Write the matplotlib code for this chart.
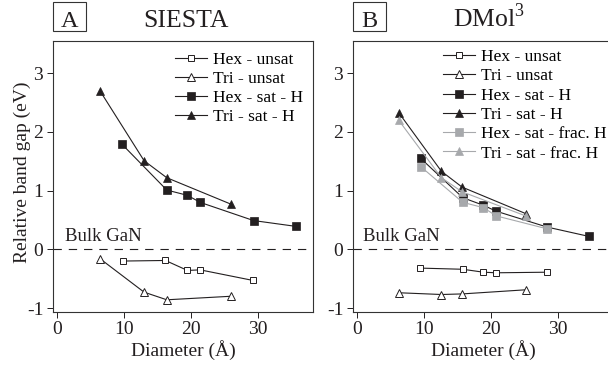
import numpy as np
import matplotlib
matplotlib.use("Agg")
import matplotlib.pyplot as plt
from matplotlib.patches import Rectangle

plt.rcParams['font.family'] = ['Liberation Serif', 'DejaVu Serif']
plt.rcParams['mathtext.fontset'] = 'custom'
plt.rcParams['mathtext.rm'] = 'Liberation Serif'
plt.rcParams['lines.scale_dashes'] = False
plt.rcParams['axes.unicode_minus'] = False

DARK = '#231f20'
GRAY = '#a7a9ac'

# --- panel A (SIESTA) ---
a_hex_unsat_x = [9.8, 16.2, 19.5, 21.4, 29.3]
a_hex_unsat_y = [-0.20, -0.19, -0.36, -0.35, -0.53]
a_tri_unsat_x = [6.4, 13.0, 16.4, 26.0]
a_tri_unsat_y = [-0.16, -0.73, -0.86, -0.80]
a_hex_sat_x = [9.7, 16.4, 19.5, 21.4, 29.4, 35.8]
a_hex_sat_y = [1.79, 1.01, 0.92, 0.80, 0.49, 0.39]
a_tri_sat_x = [6.4, 13.0, 16.4, 26.0]
a_tri_sat_y = [2.70, 1.51, 1.22, 0.77]

# --- panel B (DMol3) ---
b_hex_unsat_x = [9.4, 15.8, 18.9, 20.8, 28.4]
b_hex_unsat_y = [-0.32, -0.34, -0.39, -0.40, -0.39]
b_tri_unsat_x = [6.2, 12.6, 15.7, 25.2]
b_tri_unsat_y = [-0.74, -0.77, -0.76, -0.69]
b_hex_sat_x = [9.5, 15.8, 18.9, 20.8, 28.4, 34.7]
b_hex_sat_y = [1.55, 0.88, 0.75, 0.65, 0.38, 0.22]
b_tri_sat_x = [6.2, 12.6, 15.7, 25.2]
b_tri_sat_y = [2.33, 1.33, 1.06, 0.61]
b_hex_frac_x = [9.5, 15.8, 18.9, 20.8, 28.4]
b_hex_frac_y = [1.41, 0.80, 0.71, 0.57, 0.35]
b_tri_frac_x = [6.2, 12.6, 15.7, 25.2]
b_tri_frac_y = [2.20, 1.22, 0.98, 0.57]

xticks = [0, 10, 20, 30]
yticks = [-1, 0, 1, 2, 3]


def open_style(marker, ms):
    return dict(color=DARK, lw=0.8, marker=marker, ms=ms, mfc='white', mec=DARK, mew=0.7)


def filled_style(marker, ms, color=DARK):
    return dict(color=color, lw=0.8, marker=marker, ms=ms, mfc=color, mec=color, mew=0.5)


def setup_axes(ax, bulk_x):
    ax.set_xlim(-0.64, 38.3)
    ax.set_ylim(-1.063, 3.555)
    ax.set_xticks(xticks)
    ax.set_yticks(yticks)
    ax.axhline(0, color=DARK, lw=0.8, dashes=(6, 5))
    ax.text(bulk_x, 0.15, 'Bulk GaN', fontsize=13.5, color=DARK, va='baseline')
    ax.tick_params(direction='out', length=4, width=0.7, labelsize=14, colors=DARK,
                   top=False, right=False, pad=3)
    for s in ax.spines.values():
        s.set_linewidth(0.8)
        s.set_color('#333333')
    ax.set_xlabel('Diameter (Å)', fontsize=14, color=DARK, labelpad=1)


fig = plt.figure(figsize=(6.08, 3.66), dpi=100)
axA = fig.add_axes([53 / 608, 54.3 / 366, 260 / 608, 271 / 366])
axB = fig.add_axes([353 / 608, 54.3 / 366, 260 / 608, 271 / 366])

axA.plot(a_hex_unsat_x, a_hex_unsat_y, label='Hex - unsat', **open_style('s', 4.8))
axA.plot(a_tri_unsat_x, a_tri_unsat_y, label='Tri - unsat', **open_style('^', 5.2))
axA.plot(a_hex_sat_x, a_hex_sat_y, label='Hex - sat - H', **filled_style('s', 5.5))
axA.plot(a_tri_sat_x, a_tri_sat_y, label='Tri - sat - H', **filled_style('^', 6))
setup_axes(axA, 1.15)
axA.set_ylabel('Relative band gap (eV)', fontsize=14, color=DARK)
axA.yaxis.set_label_coords(-0.085, 0.515)

axB.plot(b_hex_unsat_x, b_hex_unsat_y, label='Hex - unsat', **open_style('s', 4.8))
axB.plot(b_tri_unsat_x, b_tri_unsat_y, label='Tri - unsat', **open_style('^', 5.2))
axB.plot(b_hex_sat_x, b_hex_sat_y, label='Hex - sat - H', **filled_style('s', 5.5))
axB.plot(b_tri_sat_x, b_tri_sat_y, label='Tri - sat - H', **filled_style('^', 6))
axB.plot(b_hex_frac_x, b_hex_frac_y, label='Hex - sat - frac. H', **filled_style('s', 5.5, GRAY))
axB.plot(b_tri_frac_x, b_tri_frac_y, label='Tri - sat - frac. H', **filled_style('^', 6, GRAY))
setup_axes(axB, 0.85)

leg_kw = dict(frameon=False, fontsize=12.5, handlelength=1.84, handletextpad=0.35,
              labelspacing=0.18, borderpad=0, borderaxespad=0, loc='upper left',
              bbox_transform=fig.transFigure)
axA.legend(bbox_to_anchor=(175 / 608, 1 - 51.5 / 366), **leg_kw)
axB.legend(bbox_to_anchor=(443 / 608, 1 - 49 / 366), **leg_kw)

# panel labels and titles
for x0, letter in [(52.7, 'A'), (352.7, 'B')]:
    fig.patches.append(Rectangle((x0 / 608, 1 - 30.7 / 366), 33 / 608, 29 / 366,
                                 transform=fig.transFigure, fill=False,
                                 ec='#333333', lw=0.8))
    fig.text((x0 + 16.8) / 608, 1 - 27 / 366, letter, fontsize=17.5, color=DARK,
             ha='center', va='baseline')
fig.text(186 / 608, 1 - 27 / 366, 'SIESTA', fontsize=18.5, color=DARK,
         ha='center', va='baseline')
fig.text(489 / 608, 1 - 27 / 366, r'DMol$^{\mathrm{3}}$', fontsize=18.5, color=DARK,
         ha='center', va='baseline')

fig.savefig('out.png', dpi=100)
